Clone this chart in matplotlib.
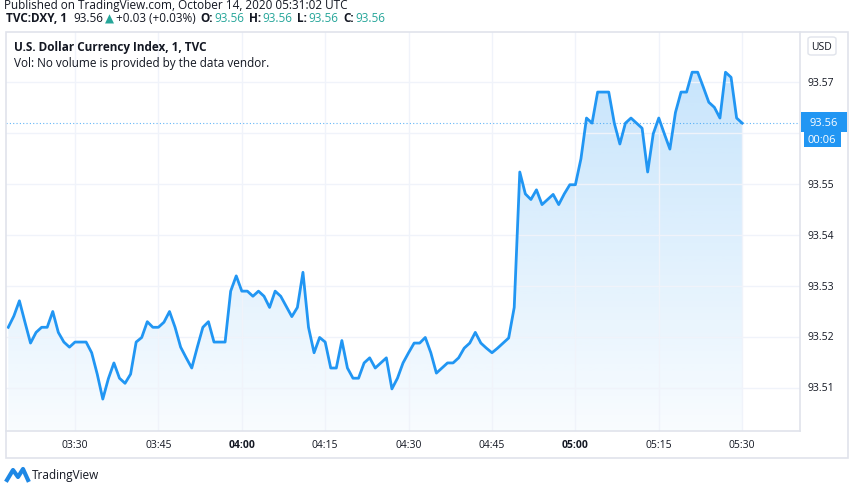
import matplotlib
matplotlib.use("Agg")
import matplotlib.pyplot as plt
import numpy as np
from matplotlib.patches import Rectangle, FancyBboxPatch, Polygon

W, H = 852, 485
prices = [
93.5219,93.5241,93.5271,93.5229,93.5188,93.5209,93.5219,93.5219,93.5250,93.5209,
93.5190,93.5180,93.5190,93.5190,93.5190,93.5169,93.5127,93.5078,93.5118,93.5149,
93.5119,93.5109,93.5127,93.5190,93.5199,93.5230,93.5219,93.5219,93.5229,93.5250,
93.5219,93.5180,93.5159,93.5139,93.5180,93.5219,93.5230,93.5190,93.5190,93.5190,
93.5290,93.5320,93.5290,93.5290,93.5280,93.5290,
93.5280,93.5258,93.5290,93.5280,93.5260,93.5240,93.5258,93.5327,93.5219,93.5169,
93.5199,93.5190,93.5139,93.5139,93.5193,93.5139,93.5119,93.5119,93.5149,93.5159,
93.5139,93.5149,93.5159,93.5098,93.5119,93.5149,93.5169,93.5188,93.5188,93.5199,
93.5169,93.5129,93.5139,93.5149,93.5149,93.5159,93.5178,93.5188,93.5209,93.5188,
93.5178,93.5169,93.5178,93.5188,93.5198,93.5258,
93.5524,93.5481,93.5470,93.5489,93.5460,93.5470,93.5480,93.5460,93.5481,93.5499,
93.5499,93.5550,93.5630,93.5620,93.5681,93.5681,93.5681,93.5620,93.5579,93.5620,
93.5630,93.5620,93.5610,93.5524,93.5599,93.5630,93.5599,93.5569,93.5641,93.5681,
93.5681,93.5720,93.5720,93.5691,93.5661,93.5651,93.5630,93.5720,93.5710,93.5630,
93.5620]
minutes = np.arange(len(prices))  # minutes since 03:18
tick_minutes = [12, 27, 42, 57, 72, 87, 102, 117, 132]
tick_labels = ["03:30", "03:45", "04:00", "04:15", "04:30", "04:45", "05:00", "05:15", "05:30"]
bold_ticks = ["04:00", "05:00"]
y_ticks = [93.51, 93.52, 93.53, 93.54, 93.55, 93.56, 93.57]
last_price = 93.5620

plt.rcParams['font.family'] = ['Open Sans', 'DejaVu Sans']
BLUE = "#2196f3"
GRID = "#f0f3fa"
BORDER = "#e0e3eb"
TEAL = "#26a69a"
TXT = "#131722"

fig = plt.figure(figsize=(W/100, H/100), dpi=100)
fig.patch.set_facecolor("white")

def fx(px): return px / W
def fy(py): return 1 - py / H

fig.patches.append(Rectangle((fx(6), fy(459)), fx(842), 426/H, transform=fig.transFigure,
                             fill=False, edgecolor=BORDER, lw=1.2))

ax = fig.add_axes([fx(6), fy(432), fx(794), 399/H])
x0, x1 = -0.41, 142.4
y0, y1 = 93.50153, 93.5799
ax.set_xlim(x0, x1)
ax.set_ylim(y0, y1)
for s in ["top", "left"]:
    ax.spines[s].set_visible(False)
for s in ["right", "bottom"]:
    ax.spines[s].set_color(BORDER)
    ax.spines[s].set_linewidth(1.2)
ax.set_xticks(tick_minutes)
ax.set_xticklabels([])
ax.set_yticks(y_ticks)
ax.set_yticklabels([])
ax.tick_params(length=0)
ax.grid(True, color=GRID, lw=1)

poly_x = np.concatenate([[minutes[0]], minutes, [minutes[-1]]])
poly_y = np.concatenate([[y0], prices, [y0]])
poly = Polygon(np.column_stack([poly_x, poly_y]), closed=True, facecolor="none", edgecolor="none")
ax.add_patch(poly)
grad = np.linspace(0, 1, 256).reshape(-1, 1)
rgba = np.zeros((256, 1, 4))
rgba[..., 0] = 0x21/255; rgba[..., 1] = 0x96/255; rgba[..., 2] = 0xf3/255
rgba[..., 3] = 0.03 + 0.22 * grad
im = ax.imshow(rgba, extent=[x0, x1, y0, 93.5720], origin="lower", aspect="auto", zorder=1)
im.set_clip_path(poly)

ax.plot(minutes, prices, color=BLUE, lw=2, zorder=3)
ax.axhline(last_price, color=BLUE, lw=0.8, ls=(0, (1, 2)), alpha=0.7, zorder=2)

for m, lab in zip(tick_minutes, tick_labels):
    ax.text(m, -0.035, lab, transform=ax.get_xaxis_transform(), ha="center", va="center",
            fontsize=7.5, color=TXT, fontweight="bold" if lab in bold_ticks else "normal")
for v in y_ticks:
    if v == 93.56:
        continue
    fig.text(fx(808), ax.transData.transform((0, v))[1] / H, f"{v:.2f}", ha="left",
             va="center", fontsize=7.5, color=TXT)

fig.patches.append(Rectangle((fx(801), fy(133)), fx(46), 20/H, transform=fig.transFigure,
                             facecolor=BLUE, edgecolor="none"))
fig.text(fx(824), fy(123), "93.56", ha="center", va="center", color="white", fontsize=8)
fig.patches.append(Rectangle((fx(804), fy(148)), fx(37), 15/H, transform=fig.transFigure,
                             facecolor=BLUE, edgecolor="none"))
fig.text(fx(822), fy(140.5), "00:06", ha="center", va="center", color="white", fontsize=8)
fig.patches.append(FancyBboxPatch((fx(808), fy(56)), fx(28), 18/H, transform=fig.transFigure,
                   boxstyle="round,pad=0,rounding_size=0.004", facecolor="white", edgecolor=BORDER, lw=1))
fig.text(fx(822), fy(47), "USD", ha="center", va="center", color=TXT, fontsize=7.5)

fig.text(fx(4), fy(5), "Published on TradingView.com, October 14, 2020 05:31:02 UTC",
         ha="left", va="center", fontsize=8.5, color=TXT)

renderer = fig.canvas.get_renderer()
parts = [("TVC:DXY, 1", TXT, "bold", 6), ("93.56", TXT, "normal", 2), ("▲", TEAL, "normal", 2),
         ("+0.03 (+0.03%)", TXT, "normal", 5), ("O:", TXT, "bold", 1), ("93.56", TEAL, "normal", 5),
         ("H:", TXT, "bold", 1), ("93.56", TEAL, "normal", 5), ("L:", TXT, "bold", 1),
         ("93.56", TEAL, "normal", 5), ("C:", TXT, "bold", 1), ("93.56", TEAL, "normal", 0)]
xp = 6
for s, c, wt, gap in parts:
    fam = ['DejaVu Sans'] if s == "▲" else ['Open Sans', 'DejaVu Sans']
    t = fig.text(fx(xp), fy(19), s, ha="left", va="center", fontsize=8.5, fontweight=wt,
                 color=c, family=fam)
    xp += t.get_window_extent(renderer).width + gap

fig.text(fx(14), fy(47), "U.S. Dollar Currency Index, 1, TVC", ha="left", va="center",
         fontsize=8.5, fontweight="bold", color=TXT)
fig.text(fx(14), fy(63), "Vol: No volume is provided by the data vendor.", ha="left", va="center",
         fontsize=8.5, color=TXT)

fig.lines.append(plt.Line2D([fx(7), fx(13), fx(18), fx(23), fx(28)],
                            [fy(481), fy(471), fy(478), fy(470), fy(481)],
                            transform=fig.transFigure, color="#1e88e5", lw=3))
fig.text(fx(32), fy(476), "TradingView", ha="left", va="center", fontsize=8.5, color=TXT)

fig.savefig("out.png", dpi=100, facecolor="white")
